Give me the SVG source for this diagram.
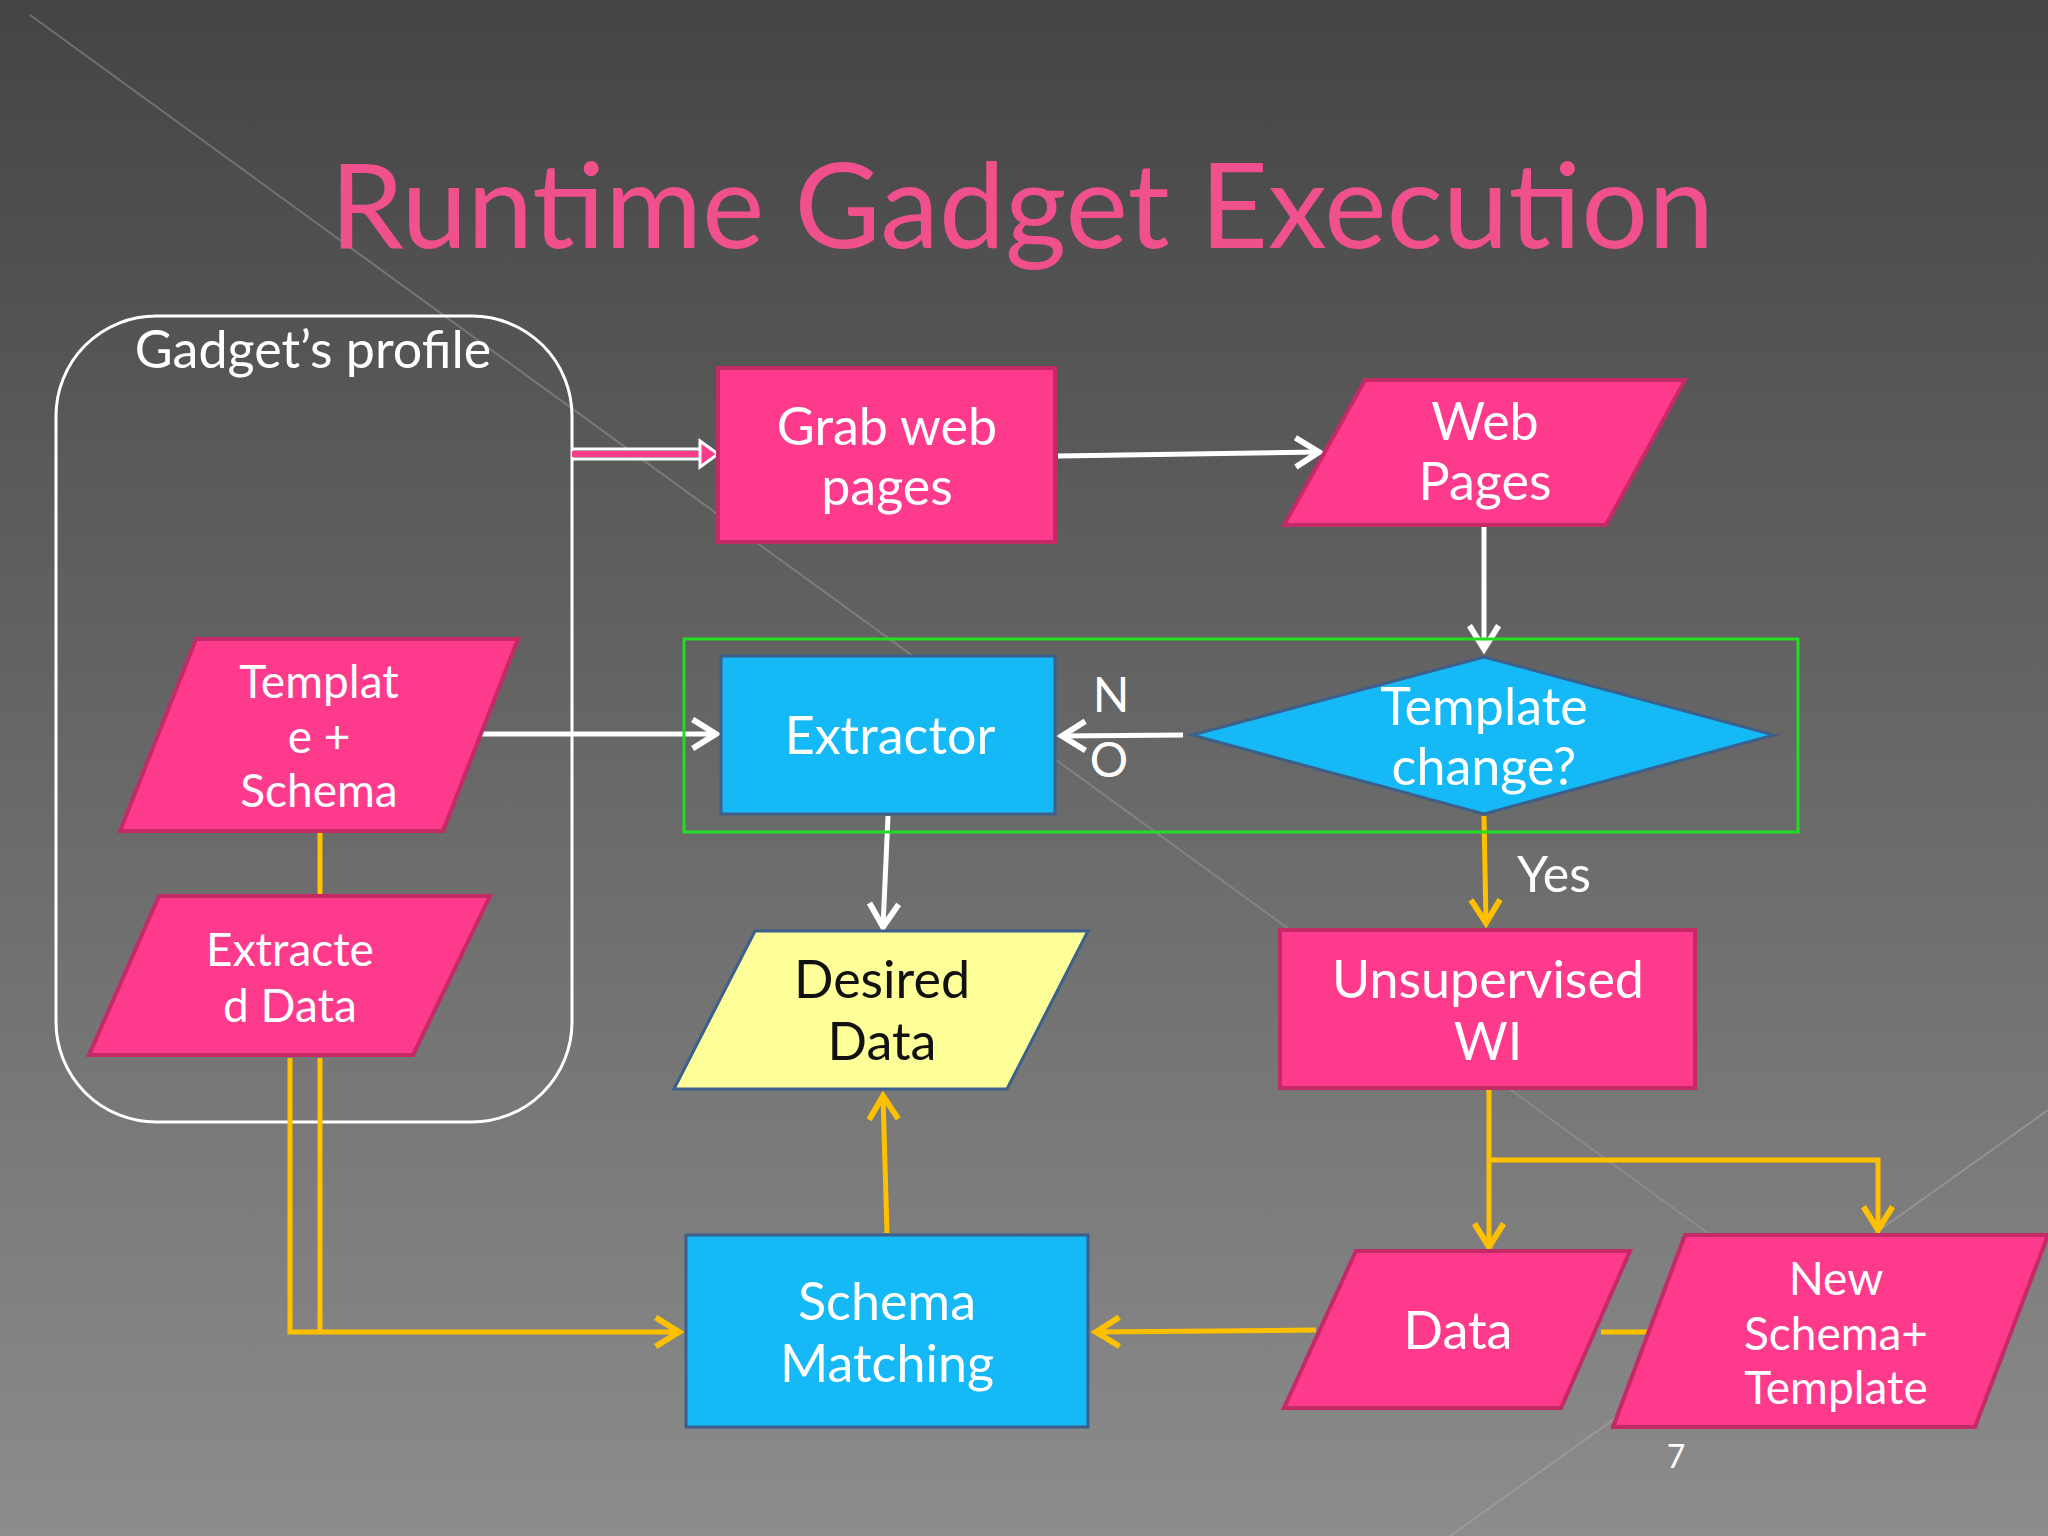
<svg xmlns="http://www.w3.org/2000/svg" width="2048" height="1536" viewBox="0 0 2048 1536">
<defs>
<linearGradient id="bg" x1="0" y1="0" x2="0" y2="1">
<stop offset="0" stop-color="#444444"/><stop offset="1" stop-color="#8c8c8c"/>
</linearGradient>
<marker id="aw" viewBox="0 0 12 12" refX="10" refY="6" markerWidth="7" markerHeight="7" orient="auto" markerUnits="strokeWidth">
<path d="M2,1 L10,6 L2,11" fill="none" stroke="#ffffff" stroke-width="2"/>
</marker>
<marker id="ay" viewBox="0 0 12 12" refX="10" refY="6" markerWidth="7" markerHeight="7" orient="auto" markerUnits="strokeWidth">
<path d="M2,1 L10,6 L2,11" fill="none" stroke="#ffc000" stroke-width="2"/>
</marker>
<style>
.pk{fill:#fd3a8c;stroke:#c32a66;stroke-width:4}
.bl{fill:#14b9f5;stroke:#3c5f8c;stroke-width:3}
.t{font-family:"Lato","Open Sans",sans-serif;fill:#ffffff;font-size:52px;text-anchor:middle}
.w{stroke:#ffffff;stroke-width:5;fill:none}
.y{stroke:#ffc000;stroke-width:5;fill:none}
</style>
</defs>
<rect width="2048" height="1536" fill="url(#bg)"/>
<path d="M30,15 L1800,1300" stroke="#9a9a9a" stroke-width="2" opacity="0.5"/>
<path d="M1450,1536 L2048,1110" stroke="#aaaaaa" stroke-width="2" opacity="0.5"/>
<text x="1022" y="248" font-family="Lato,'Open Sans',sans-serif" font-size="118" fill="#f0508c" text-anchor="middle">Runtime Gadget Execution</text>

<g id="profile"><rect x="56" y="316" width="516" height="806" rx="100" fill="none" stroke="#ffffff" stroke-width="3"/>
<text class="t" x="313" y="368">Gadget’s profile</text></g>

<g id="connectors">
<path d="M572,449 L700,449 M572,459 L700,459" stroke="#ffffff" stroke-width="3"/>
<path d="M572,454 L700,454" stroke="#fd3a8c" stroke-width="6"/>
<path d="M700,441 L718,454 L700,467 Z" fill="#fd3a8c" stroke="#ffffff" stroke-width="3"/>
<path class="w" d="M1058,456 L1319,452" marker-end="url(#aw)"/>
<path class="w" d="M1484,526 L1484,649" marker-end="url(#aw)"/>
<path class="w" d="M1183,735 L1062,736" marker-end="url(#aw)"/>
<path class="w" d="M482,734 L716,734" marker-end="url(#aw)"/>
<path class="w" d="M888,816 L883,927" marker-end="url(#aw)"/>
<path class="y" d="M1484,816 L1486,923" marker-end="url(#ay)"/>
<path class="y" d="M1489,1090 L1489,1247" marker-end="url(#ay)"/>
<path class="y" d="M1489,1160 L1878,1160 L1878,1230" marker-end="url(#ay)"/>
<path class="y" d="M1316,1330 L1096,1332" marker-end="url(#ay)"/>
<path class="y" d="M1601,1332 L1656,1332"/>
<path class="y" d="M887,1233 L883,1096" marker-end="url(#ay)"/>
<path class="y" d="M320,832 L320,896"/>
<path class="y" d="M290,1058 L290,1332 L679,1332" marker-end="url(#ay)"/>
<path class="y" d="M320,1058 L320,1332"/>
</g>
<text class="t" x="1111" y="712" style="font-size:48px">N</text>
<text class="t" x="1109" y="777" style="font-size:48px">O</text>
<text class="t" x="1554" y="892" style="font-size:50px">Yes</text>

<rect x="684" y="639" width="1114" height="193" fill="none" stroke="#22dd22" stroke-width="3"/>

<g id="grab"><rect class="pk" x="718" y="368" width="337" height="174"/>
<text class="t" x="887" y="445">Grab web</text><text class="t" x="887" y="505">pages</text></g>
<g id="web"><polygon class="pk" points="1365,380 1685,380 1606,525 1284,525"/>
<text class="t" x="1485" y="440">Web</text><text class="t" x="1485" y="500">Pages</text></g>
<g id="extractor"><rect class="bl" x="721" y="656" width="334" height="158"/>
<text class="t" x="890" y="754">Extractor</text></g>
<g id="diamond"><polygon class="bl" points="1192,735 1484,657 1774,735 1484,814"/>
<text class="t" x="1484" y="725">Template</text><text class="t" x="1484" y="785">change?</text></g>
<g id="tmpl"><polygon class="pk" points="196,639 518,639 443,831 120,831"/>
<text class="t" x="319" y="698" style="font-size:46px">Templat</text><text class="t" x="319" y="753" style="font-size:46px">e +</text><text class="t" x="319" y="807" style="font-size:46px">Schema</text></g>
<g id="extracted"><polygon class="pk" points="159,896 490,896 413,1055 89,1055"/>
<text class="t" x="290" y="966" style="font-size:46px">Extracte</text><text class="t" x="290" y="1022" style="font-size:46px">d Data</text></g>
<g id="desired"><polygon points="755,931 1088,931 1007,1089 674,1089" fill="#ffff99" stroke="#3c5f8c" stroke-width="3"/>
<text class="t" x="882" y="998" style="fill:#111">Desired</text><text class="t" x="882" y="1060" style="fill:#111">Data</text></g>
<g id="unsup"><rect class="pk" x="1280" y="930" width="415" height="158"/>
<text class="t" x="1488" y="998">Unsupervised</text><text class="t" x="1488" y="1060">WI</text></g>
<g id="schema"><rect class="bl" x="686" y="1235" width="402" height="192"/>
<text class="t" x="887" y="1320">Schema</text><text class="t" x="887" y="1382">Matching</text></g>
<g id="data"><polygon class="pk" points="1356,1251 1630,1251 1561,1408 1284,1408"/>
<text class="t" x="1458" y="1349">Data</text></g>
<g id="newschema"><polygon class="pk" points="1685,1235 2048,1235 1975,1427 1613,1427"/>
<text class="t" x="1836" y="1295" style="font-size:46px">New</text><text class="t" x="1836" y="1350" style="font-size:46px">Schema+</text><text class="t" x="1836" y="1404" style="font-size:46px">Template</text></g>
<text class="t" x="1676" y="1468" style="font-size:32px">7</text>
</svg>
